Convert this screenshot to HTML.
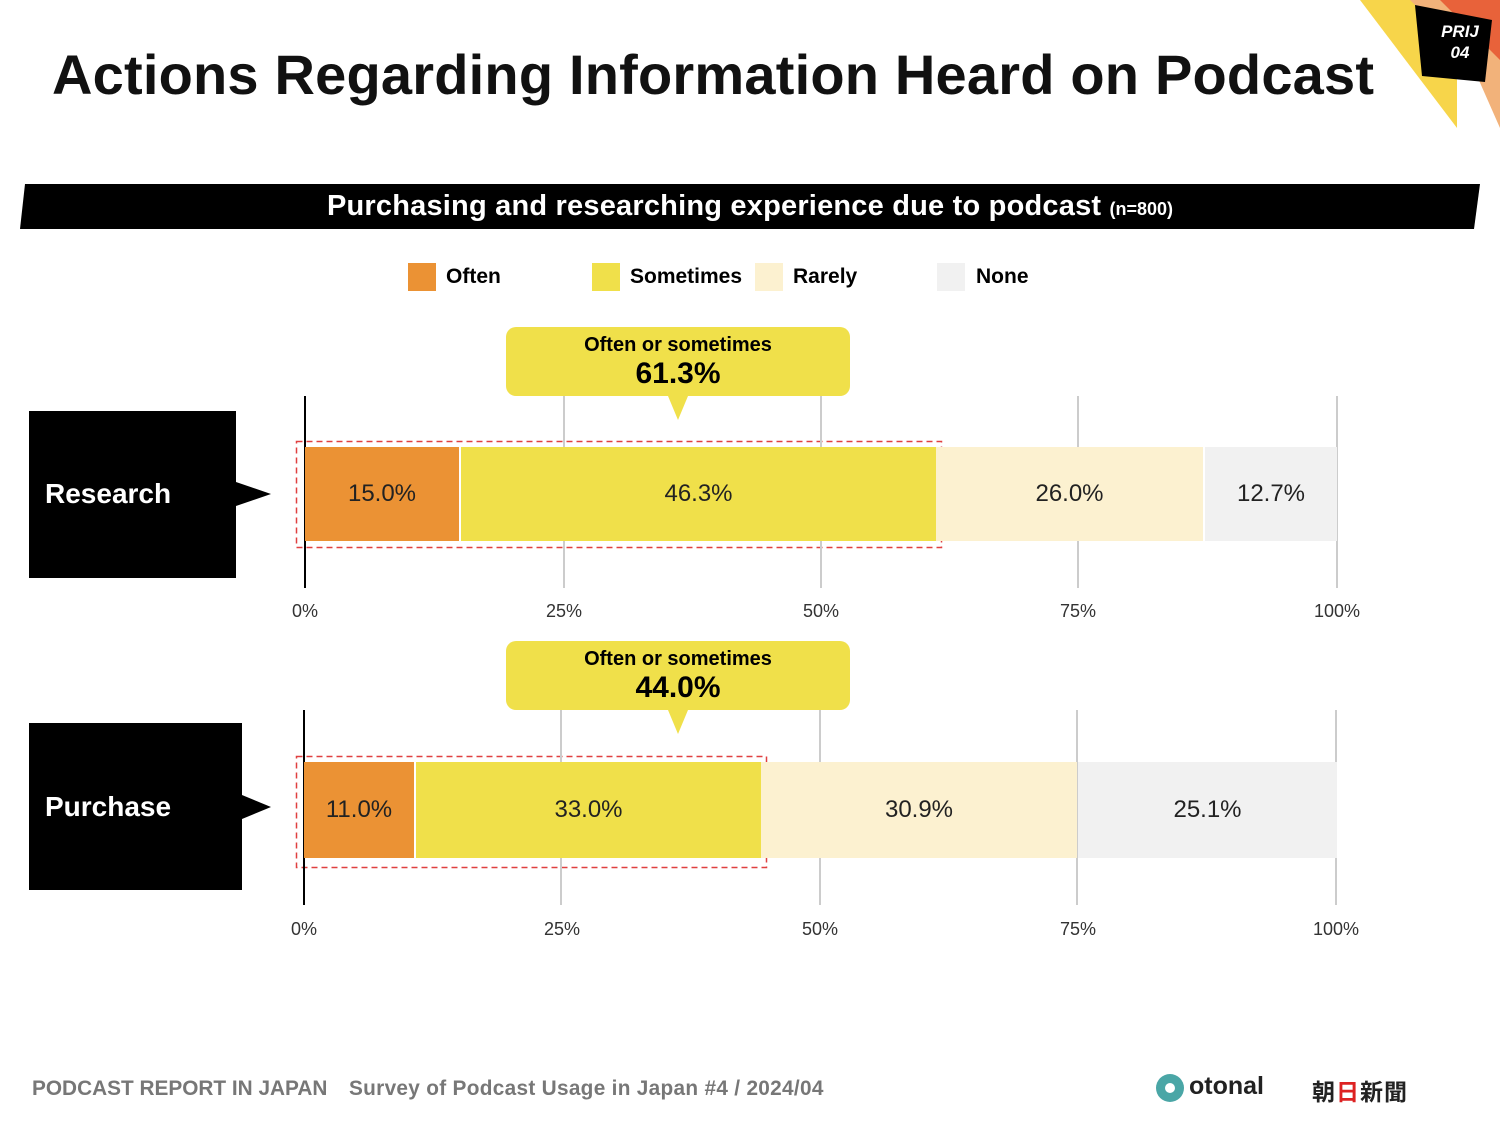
<!DOCTYPE html>
<html><head><meta charset="utf-8"><style>
body{margin:0;width:1500px;height:1124px;background:#fff;position:relative;overflow:hidden;font-family:"Liberation Sans",Arial,sans-serif}
.a{position:absolute}
.t{position:absolute;white-space:nowrap}
.seg{position:absolute;display:flex;align-items:center;justify-content:center;font-size:24px;color:#222}
.g{position:absolute;width:2px;background:#ccc}
.tick{position:absolute;font-size:18px;color:#333;transform:translateX(-50%)}
.call{position:absolute;background:#f0e04a;border-radius:10px;text-align:center}
</style></head><body>
<svg class="a" style="left:0;top:0" width="1500" height="1124">
<polygon points="1360,0 1420,0 1457,80 1457,128" fill="#f7d54a"/>
<polygon points="1410,0 1500,0 1500,128 1470,60" fill="#f2b27a"/>
<polygon points="1440,0 1500,0 1500,60" fill="#e8623a"/>
<polygon points="1415,5 1492,20 1485,82 1422,76" fill="#000"/>
<text x="1460" y="37" font-family="Liberation Sans" font-weight="bold" font-style="italic" font-size="17" fill="#fff" text-anchor="middle">PRIJ</text>
<text x="1460" y="58" font-family="Liberation Sans" font-weight="bold" font-style="italic" font-size="17" fill="#fff" text-anchor="middle">04</text>
<polygon points="25,184 1480,184 1474,229 20,229" fill="#000"/>
<polygon points="236,482 271,494 236,506" fill="#000"/>
<polygon points="242,795 271,807 242,819" fill="#000"/>
<polygon points="668,396 688,396 678,420" fill="#f0e04a"/>
<polygon points="668,710 688,710 678,734" fill="#f0e04a"/>
<circle cx="1170" cy="1088" r="14" fill="#4aa6a6"/><circle cx="1170" cy="1088" r="5" fill="#fff"/>
<rect x="296.5" y="441.5" width="645" height="106" fill="none" stroke="#e04040" stroke-width="1.5" stroke-dasharray="6,4"/>
<rect x="296.5" y="756.5" width="470" height="111" fill="none" stroke="#e04040" stroke-width="1.5" stroke-dasharray="6,4"/>
</svg>
<div class="t" style="left:52px;top:42px;font-size:56px;font-weight:bold;color:#111;letter-spacing:0.2px">Actions Regarding Information Heard on Podcast</div>
<div class="t" style="left:0;width:1500px;text-align:center;top:190px;font-size:29px;font-weight:bold;color:#fff;letter-spacing:0.2px">Purchasing and researching experience due to podcast <span style="font-size:18px;letter-spacing:0">(n=800)</span></div>
<div class="a" style="left:408px;top:263px;width:28px;height:28px;background:#eb9234"></div><div class="t" style="left:446px;top:265px;font-size:21px;font-weight:bold">Often</div>
<div class="a" style="left:592px;top:263px;width:28px;height:28px;background:#f0e04a"></div><div class="t" style="left:630px;top:265px;font-size:21px;font-weight:bold">Sometimes</div>
<div class="a" style="left:755px;top:263px;width:28px;height:28px;background:#fcf1d0"></div><div class="t" style="left:793px;top:265px;font-size:21px;font-weight:bold">Rarely</div>
<div class="a" style="left:937px;top:263px;width:28px;height:28px;background:#f1f1f1"></div><div class="t" style="left:976px;top:265px;font-size:21px;font-weight:bold">None</div>

<div class="g" style="left:563px;top:396px;height:192px"></div><div class="g" style="left:820px;top:396px;height:192px"></div><div class="g" style="left:1077px;top:396px;height:192px"></div><div class="g" style="left:1336px;top:396px;height:192px"></div>
<div class="a" style="left:304px;top:396px;width:2px;height:192px;background:#000"></div>
<div class="seg" style="left:305px;top:447px;width:154px;height:94px;background:#eb9234">15.0%</div>
<div class="seg" style="left:461px;top:447px;width:475px;height:94px;background:#f0e04a">46.3%</div>
<div class="seg" style="left:936px;top:447px;width:267px;height:94px;background:#fcf1d0">26.0%</div>
<div class="seg" style="left:1205px;top:447px;width:132px;height:94px;background:#f1f1f1">12.7%</div>
<div class="tick" style="left:305px;top:601px">0%</div><div class="tick" style="left:564px;top:601px">25%</div><div class="tick" style="left:821px;top:601px">50%</div><div class="tick" style="left:1078px;top:601px">75%</div><div class="tick" style="left:1337px;top:601px">100%</div>
<div class="call" style="left:506px;top:327px;width:344px;height:69px"><div style="font-size:20px;font-weight:bold;margin-top:7px">Often or sometimes</div><div style="font-size:30px;font-weight:bold">61.3%</div></div>
<div class="a" style="left:29px;top:411px;width:207px;height:167px;background:#000"></div>
<div class="t" style="left:45px;top:478px;font-size:28px;font-weight:bold;color:#fff">Research</div>

<div class="g" style="left:560px;top:710px;height:195px"></div><div class="g" style="left:819px;top:710px;height:195px"></div><div class="g" style="left:1076px;top:710px;height:195px"></div><div class="g" style="left:1335px;top:710px;height:195px"></div>
<div class="a" style="left:303px;top:710px;width:2px;height:195px;background:#000"></div>
<div class="seg" style="left:304px;top:762px;width:110px;height:96px;background:#eb9234">11.0%</div>
<div class="seg" style="left:416px;top:762px;width:345px;height:96px;background:#f0e04a">33.0%</div>
<div class="seg" style="left:761px;top:762px;width:316px;height:96px;background:#fcf1d0">30.9%</div>
<div class="seg" style="left:1078px;top:762px;width:259px;height:96px;background:#f1f1f1">25.1%</div>
<div class="tick" style="left:304px;top:919px">0%</div><div class="tick" style="left:562px;top:919px">25%</div><div class="tick" style="left:820px;top:919px">50%</div><div class="tick" style="left:1078px;top:919px">75%</div><div class="tick" style="left:1336px;top:919px">100%</div>
<div class="call" style="left:506px;top:641px;width:344px;height:69px"><div style="font-size:20px;font-weight:bold;margin-top:7px">Often or sometimes</div><div style="font-size:30px;font-weight:bold">44.0%</div></div>
<div class="a" style="left:29px;top:723px;width:213px;height:167px;background:#000"></div>
<div class="t" style="left:45px;top:791px;font-size:28px;font-weight:bold;color:#fff">Purchase</div>

<div class="t" style="left:32px;top:1077px;font-size:20.8px;font-weight:bold;color:#777">PODCAST REPORT IN JAPAN</div>
<div class="t" style="left:349px;top:1077px;font-size:20.8px;font-weight:bold;color:#777;letter-spacing:0.3px">Survey of Podcast Usage in Japan #4 / 2024/04</div>
<div class="t" style="left:1189px;top:1072px;font-size:25px;font-weight:bold;color:#222">otonal</div>
<div class="t" style="left:1312px;top:1073px;font-size:23px;font-weight:bold;color:#222;font-family:'Liberation Sans','Noto Sans CJK JP',sans-serif;letter-spacing:1px">朝<span style="color:#d22">日</span>新聞</div>
</body></html>
